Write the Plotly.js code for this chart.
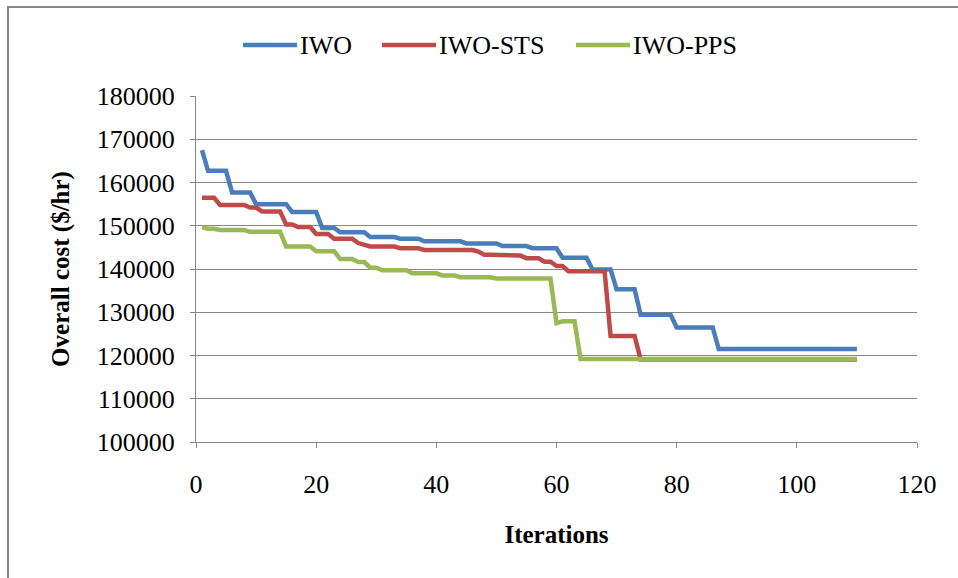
<!DOCTYPE html>
<html>
<head>
<meta charset="utf-8">
<script src="https://cdn.plot.ly/plotly-3.0.1.min.js"></script>
<style>
  html, body { margin: 0; padding: 0; background: #ffffff; }
  #chart { width: 958px; height: 578px; }
</style>
</head>
<body>
<div id="chart"></div>
<script>
// Iterations (x values)
const iterations = [
  1,2,3,4,5,6,7,8,9,10,11,12,13,14,15,16,17,18,19,20,
  21,22,23,24,25,26,27,28,29,30,31,32,33,34,35,36,37,38,39,40,
  41,42,43,44,45,46,47,48,49,50,51,52,53,54,55,56,57,58,59,60,
  61,62,63,64,65,66,67,68,69,70,71,72,73,74,75,76,77,78,79,80,
  81,82,83,84,85,86,87,88,89,90,91,92,93,94,95,96,97,98,99,100,
  101,102,103,104,105,106,107,108,109,110
];

// IWO overall cost ($/hr)
const iwo = [
  167500,162700,162700,162700,162700,157700,157700,157700,157700,155000,
  155000,155000,155000,155000,155000,153200,153200,153200,153200,153200,
  149500,149500,149500,148500,148500,148500,148500,148500,147400,147400,
  147400,147400,147400,147000,147000,147000,147000,146400,146400,146400,
  146400,146400,146400,146400,145900,145900,145900,145900,145900,145900,
  145300,145300,145300,145300,145300,144800,144800,144800,144800,144800,
  142600,142600,142600,142600,142600,139900,139900,139900,139900,135300,
  135300,135300,135300,129400,129400,129400,129400,129400,129400,126500,
  126500,126500,126500,126500,126500,126500,121500,121500,121500,121500,
  121500,121500,121500,121500,121500,121500,121500,121500,121500,121500,
  121500,121500,121500,121500,121500,121500,121500,121500,121500,121500
];

// IWO-STS overall cost ($/hr)
const iwoSts = [
  156500,156500,156500,154800,154800,154800,154800,154800,154200,154200,
  153300,153300,153300,153300,150300,150300,149700,149700,149700,148100,
  148100,148100,147000,147000,147000,147000,146000,145500,145200,145200,
  145200,145200,145200,144800,144800,144800,144800,144400,144400,144400,
  144400,144400,144400,144400,144400,144400,144000,143300,143300,143300,
  143100,143100,143100,143100,142500,142500,142500,141700,141700,140700,
  140700,139500,139500,139500,139500,139500,139500,139500,124500,124500,
  124500,124500,124500,119100,119100,119100,119100,119100,119100,119100,
  119100,119100,119100,119100,119100,119100,119100,119100,119100,119100,
  119100,119100,119100,119100,119100,119100,119100,119100,119100,119100,
  119100,119100,119100,119100,119100,119100,119100,119100,119100,119100
];

// IWO-PPS overall cost ($/hr)
const iwoPps = [
  149700,149300,149300,149000,149000,149000,149000,149000,148600,148600,
  148600,148600,148600,148600,145200,145200,145200,145200,145200,144100,
  144100,144100,144100,142300,142300,142300,141600,141600,140300,140300,
  139700,139700,139700,139700,139700,139000,139000,139000,139000,139000,
  138500,138500,138500,138100,138100,138100,138100,138100,138100,137800,
  137800,137800,137800,137800,137800,137800,137800,137800,137800,127500,
  127900,127900,127900,119200,119200,119200,119200,119200,119200,119200,
  119200,119200,119200,119200,119200,119200,119200,119200,119200,119200,
  119200,119200,119200,119200,119200,119200,119200,119200,119200,119200,
  119200,119200,119200,119200,119200,119200,119200,119200,119200,119200,
  119200,119200,119200,119200,119200,119200,119200,119200,119200,119200
];

const seriesNames = ["IWO", "IWO-STS", "IWO-PPS"];
const seriesColors = ["#4A7EBB", "#BE4B48", "#98B954"];
const xTickVals = [0, 20, 40, 60, 80, 100, 120];
const yTickVals = [100000, 110000, 120000, 130000, 140000, 150000, 160000, 170000, 180000];

const FONT = "Liberation Serif, Times New Roman, serif";
const seriesData = [iwo, iwoSts, iwoPps];

const traces = seriesData.map((ys, i) => ({
  type: "scatter",
  mode: "lines",
  x: iterations,
  y: ys,
  name: seriesNames[i],
  line: { color: seriesColors[i], width: 4.5 },
  showlegend: false,
  hoverinfo: "x+y+name"
}));

// Manual legend (paper coordinates; plot area: x 196..917, y 96..442 px)
const W = 958, H = 578;
const L = 196, R = 41, T = 96, B = 136;
const pw = W - L - R, ph = H - T - B;
const px = v => (v - L) / pw;
const py = v => (H - B - v) / ph;

const legendItems = [
  { x0: 243, x1: 297, tx: 298 },
  { x0: 382, x1: 436, tx: 437 },
  { x0: 576, x1: 630, tx: 631 }
];
const legendY = 45;

const shapes = [
  {
    type: "rect", xref: "paper", yref: "paper",
    x0: px(8), x1: px(990), y0: py(7), y1: py(620),
    line: { color: "#878787", width: 2 }, fillcolor: "rgba(0,0,0,0)", layer: "below"
  }
];
const annotations = [];
legendItems.forEach((it, i) => {
  shapes.push({
    type: "line", xref: "paper", yref: "paper",
    x0: px(it.x0), x1: px(it.x1), y0: py(legendY), y1: py(legendY),
    line: { color: seriesColors[i], width: 4.5 }
  });
  annotations.push({
    xref: "paper", yref: "paper", x: px(it.tx), y: py(legendY),
    xanchor: "left", yanchor: "middle", showarrow: false,
    text: seriesNames[i], font: { family: FONT, size: 26, color: "#000000" }
  });
});

const layout = {
  width: W, height: H,
  margin: { l: L, r: R, t: T, b: B, pad: 0 },
  paper_bgcolor: "#ffffff",
  plot_bgcolor: "#ffffff",
  font: { family: FONT, size: 26, color: "#000000" },
  showlegend: false,
  xaxis: {
    range: [0, 120],
    tickvals: xTickVals,
    ticks: "outside", ticklen: 5, tickcolor: "#868686", tickwidth: 1,
    ticklabelstandoff: 14,
    showgrid: false,
    showline: true, linecolor: "#868686", linewidth: 1,
    zeroline: false,
    tickfont: { family: FONT, size: 26, color: "#000000" },
    title: { text: "<b>Iterations</b>", font: { family: FONT, size: 25, color: "#000000" }, standoff: 27 },
    automargin: false
  },
  yaxis: {
    range: [100000, 180000],
    tickvals: yTickVals,
    tickformat: "d",
    ticks: "outside", ticklen: 5, tickcolor: "#868686", tickwidth: 1,
    ticklabelstandoff: 10,
    showgrid: true, gridcolor: "#868686", gridwidth: 1,
    showline: true, linecolor: "#868686", linewidth: 1,
    zeroline: false,
    tickfont: { family: FONT, size: 26, color: "#000000" },
    title: { text: "<b>Overall cost ($/hr)</b>", font: { family: FONT, size: 25, color: "#000000" }, standoff: 20 },
    automargin: false
  },
  shapes: shapes,
  annotations: annotations
};

Plotly.newPlot("chart", traces, layout, { staticPlot: true, displayModeBar: false });
</script>
</body>
</html>
